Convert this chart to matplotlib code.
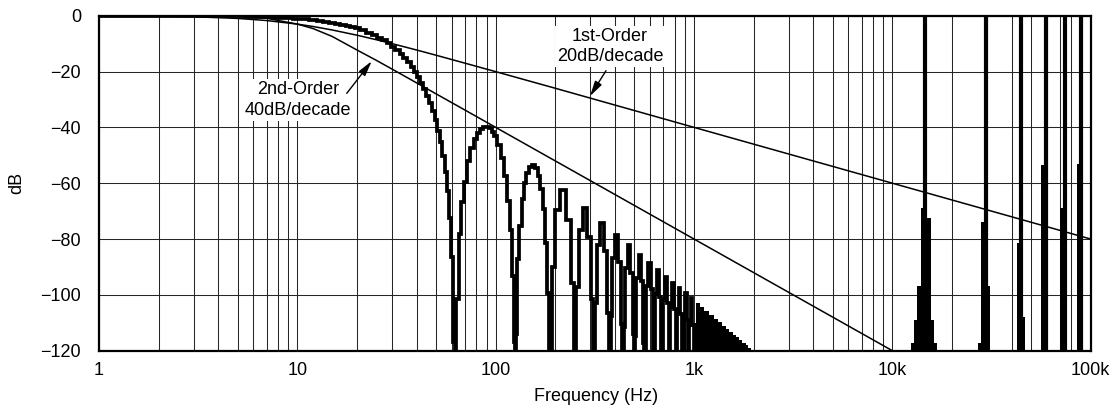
import matplotlib
matplotlib.use('Agg')
import matplotlib.pyplot as plt
from matplotlib.ticker import FixedLocator, LogLocator, NullFormatter

plt.rcParams['font.family'] = ['Liberation Sans', 'DejaVu Sans']
plt.rcParams['font.size'] = 13

# thin reference curves
first_f = [1, 2, 3, 5, 7, 10, 12, 15, 20, 25, 30, 40, 50, 70, 100, 200, 1000, 100000]
first_db = [-0.04, -0.17, -0.37, -0.97, -1.73, -3.01, -3.87, -5.12, -6.99, -8.6, -10.0,
            -12.3, -14.15, -17.0, -20.04, -26.0, -40.0, -80.0]
second_f = [1, 2, 3, 5, 7, 10, 12, 15, 20, 25, 30, 40, 50, 70, 100, 1000, 10000]
second_db = [0.0, -0.01, -0.04, -0.26, -0.92, -3.01, -4.6, -7.45, -12.3, -15.98, -19.11,
             -24.09, -27.97, -33.8, -40.0, -80.0, -120.0]

# thick measured response: main lobe and first two sidelobes
resp_f = [1, 2, 3, 4, 5, 6, 7, 8, 9, 10, 11, 12, 13, 14, 15, 16, 17, 18, 19, 20,
          21.5, 23, 24.5, 26, 27.5, 29, 30.5, 32, 33.5, 35, 36.5, 38, 39.5, 41, 42.5,
          44, 45.5, 47, 48.5, 50, 51.5, 53, 54.5, 56, 57.5, 59, 60.5, 62, 62.7,
          64, 66, 68, 70, 73, 76, 79, 82, 85, 88, 91, 94, 97, 100, 104, 108, 112,
          116, 119, 122, 124, 125.4,
          127, 130, 133, 137, 141, 145, 150, 155, 160, 165, 170, 175, 180, 184, 188.1]
resp_db = [0.0, -0.04, -0.1, -0.17, -0.27, -0.39, -0.54, -0.7, -0.89, -1.1, -1.33, -1.59,
           -1.87, -2.17, -2.5, -2.85, -3.23, -3.63, -4.06, -4.52, -5.25, -6.05, -6.91,
           -7.84, -8.84, -9.92, -11.07, -12.32, -13.65, -15.08, -16.61, -18.25, -20.02,
           -21.94, -23.98, -26.23, -28.66, -31.32, -34.23, -37.49, -41.19, -45.3, -50.11,
           -55.82, -62.92, -72.31, -86.41, -116.8, -125,
           -101.6, -78.2, -66.8, -59.5, -52.2, -47.4, -44.1, -41.9, -40.5, -39.9, -39.9,
           -40.4, -41.5, -43.2, -46.4, -51.0, -57.3, -66.4, -76.6, -93.4, -116.8, -125,
           -114.0, -87.3, -75.2, -65.8, -60.1, -56.5, -54.1, -53.5, -54.6, -57.3, -62.1,
           -69.4, -81.5, -99.3, -125]

# higher sidelobes
lobe_f = [194.4, 203.8, 219.5, 235.1, 244.5,
          250.8, 257.1, 266.4, 282.2, 297.8, 307.2,
          313.5, 319.8, 329.2, 344.9, 360.5, 369.9,
          376.2, 382.5, 391.9, 407.6, 423.2, 432.6,
          438.9, 445.2, 454.6, 470.3, 485.9, 495.3,
          501.6, 507.9, 517.3, 533.0, 548.6, 558.0,
          564.3, 580.0, 595.7, 611.3,
          627.0, 642.7, 658.4, 674.0,
          689.7, 705.4, 721.0, 736.7,
          752.4, 768.1, 783.8, 799.4,
          815.1, 830.8, 846.5, 862.1,
          877.8, 893.5, 909.2, 924.8,
          940.5, 956.2, 971.9, 987.5,
          1003.2]
lobe_db = [-89.9, -69.6, -62.5, -73.3, -95.9,
           -125, -97.2, -76.6, -69.0, -79.3, -101.6,
           -125, -102.8, -82.1, -74.2, -84.2, -106.4,
           -125, -107.5, -86.7, -78.6, -88.4, -110.5,
           -125, -111.5, -90.5, -82.3, -92.0, -114.0,
           -125, -114.9, -93.9, -85.6, -95.2, -117.2,
           -125, -96.9, -88.5, -98.0,
           -125, -99.6, -91.1, -100.6,
           -125, -102.0, -93.5, -102.9,
           -125, -104.2, -95.7, -105.1,
           -125, -106.1, -97.6, -107.0,
           -125, -108.0, -99.5, -108.9,
           -125, -109.8, -101.3, -110.7,
           -125]

# dense lobes above 1 kHz merge into a solid region
tail_f = [1003, 1035, 1097, 1160, 1223, 1285, 1348, 1411, 1474, 1536, 1599, 1662,
          1724, 1787, 1850, 1912, 1975, 2006]
tail_db = [-110.0, -102.9, -104.4, -105.9, -107.2, -108.5, -109.8, -111.0, -112.1,
           -113.2, -114.2, -115.2, -116.2, -117.1, -118.0, -118.9, -119.7, -121.0]

# images around multiples of the sample rate
img_center = [14.6e3, 29.6e3, 44.6e3, 59.7e3, 73.8e3, 89.0e3]
skirt_f = [[12.44e3, 12.88e3, 13.38e3, 13.97e3, 15.03e3, 15.64e3, 16.25e3, 16.77e3],
           [27.0e3, 27.95e3, 29.6e3, 30.9e3, 31.1e3],
           [42.4e3, 45.5e3, 46.7e3],
           [56.2e3, 59.7e3],
           [70.2e3, 75.0e3],
           [85.2e3, 89.0e3]]
skirt_db = [[-117.4, -109, -97, -69, -72.5, -109, -117.4, -125],
            [-117.4, -73.8, -97, -117.4, -125],
            [-81.5, -108, -125],
            [-53.5, -125],
            [-69, -125],
            [-53, -125]]

x_ticks = [1, 10, 100, 1000, 10000, 100000]
x_labels = ['1', '10', '100', '1k', '10k', '100k']
y_ticks = [-120, -100, -80, -60, -40, -20, 0]

fig = plt.figure(figsize=(11.18, 4.13), dpi=100)
ax = fig.add_axes([99 / 1118, 1 - 350.7 / 413, 991.7 / 1118, 335 / 413])
ax.set_xscale('log')
ax.set_xlim(1, 1e5)
ax.set_ylim(-120, 0)

ax.xaxis.set_major_locator(FixedLocator(x_ticks))
ax.set_xticklabels(x_labels)
ax.xaxis.set_minor_locator(LogLocator(base=10, subs=range(2, 10)))
ax.xaxis.set_minor_formatter(NullFormatter())
ax.set_yticks(y_ticks)
ax.tick_params(which='both', length=0)
ax.tick_params(axis='x', pad=8)
ax.tick_params(axis='y', pad=13)
ax.grid(True, which='both', color='0.15', lw=0.75)
ax.set_axisbelow(True)
for s in ax.spines.values():
    s.set_linewidth(1.6)

ax.plot(first_f, first_db, color='k', lw=1.1)
ax.plot(second_f, second_db, color='k', lw=1.1)

ax.plot(resp_f + lobe_f, resp_db + lobe_db, color='k', lw=2.7,
        drawstyle='steps-mid', solid_joinstyle='miter')
ax.fill_between(tail_f, tail_db, -125, step='mid', color='k', lw=0)
for sf, sd in zip(skirt_f, skirt_db):
    ax.fill_between(sf, sd, -125, step='post', color='k', lw=0)
ax.vlines(img_center, -125, 0, color='k', lw=3.0)

box = dict(facecolor='white', edgecolor='none', pad=1.5)
ax.text(377, -11.1, '1st-Order\n20dB/decade', ha='center', va='center',
        linespacing=1.25, bbox=box, zorder=5)
ax.text(10.1, -30.2, '2nd-Order\n40dB/decade', ha='center', va='center',
        linespacing=1.25, bbox=box, zorder=5)
arrow = dict(arrowstyle='-|>,head_length=0.7,head_width=0.18', color='k', lw=1.0,
             shrinkA=0, shrinkB=0)
ax.annotate('', xy=(299, -28.8), xytext=(360, -19.7), arrowprops=arrow, zorder=6)
ax.annotate('', xy=(23.7, -16.3), xytext=(17.75, -27.8), arrowprops=arrow, zorder=6)

ax.set_xlabel('Frequency (Hz)')
ax.set_ylabel('dB')
ax.xaxis.set_label_coords(0.501, -0.112)
ax.yaxis.set_label_coords(-0.074, 0.502)

fig.savefig('out.png', dpi=100)
